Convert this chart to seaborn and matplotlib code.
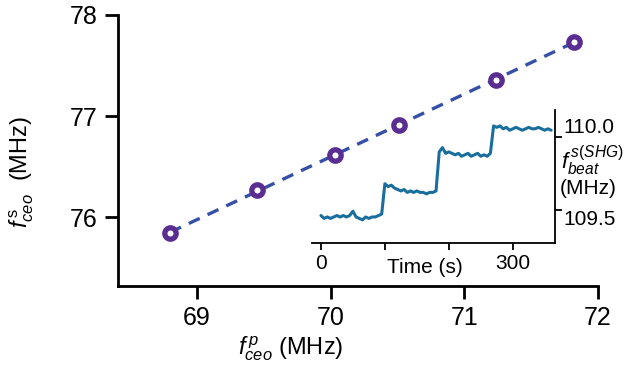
import numpy as np
import pandas as pd
import matplotlib
matplotlib.use("Agg")
import matplotlib.pyplot as plt
import seaborn as sns

# ---- main data ----
f_ceo_p = [68.80, 69.45, 70.03, 70.51, 71.24, 71.82]
f_ceo_s = [75.84, 76.27, 76.62, 76.91, 77.36, 77.73]

# ---- inset data (beat note vs time) ----
time_s = [0, 5, 10, 15, 20, 25, 30, 35, 40, 45, 50, 55, 60, 65, 70, 75, 80, 85, 90, 95,
          100, 105, 110, 115, 120, 125, 130, 135, 140, 145, 150, 155, 160, 165, 170, 175, 180,
          185, 190, 195, 200, 205, 210, 215, 220, 225, 230, 235, 240, 245, 250, 255, 260, 265,
          270, 275, 280, 285, 290, 295, 300, 305, 310, 315, 320, 325, 330, 335, 340, 345, 350, 355, 360]
beat = [109.46, 109.44, 109.45, 109.44, 109.45, 109.46, 109.45, 109.46, 109.45, 109.46,
        109.49, 109.45, 109.44, 109.43, 109.45, 109.44, 109.45, 109.45, 109.46, 109.47,
        109.68, 109.66, 109.67, 109.65, 109.64, 109.63, 109.64, 109.62, 109.63, 109.62,
        109.63, 109.62, 109.62, 109.61, 109.62, 109.62, 109.63,
        109.90, 109.93, 109.89, 109.90, 109.89, 109.88, 109.89, 109.87, 109.88, 109.89,
        109.87, 109.88, 109.89, 109.87, 109.88, 109.87, 109.89,
        110.08, 110.07, 110.08, 110.06, 110.07, 110.05, 110.06, 110.07, 110.06, 110.05,
        110.06, 110.07, 110.06, 110.06, 110.07, 110.06, 110.05, 110.06, 110.05]

main_xticks = [69, 70, 71, 72]
main_yticks = [76, 77, 78]
inset_xticks = [0, 100, 200, 300]
inset_xticklabels = ["0", "", "", "300"]
inset_yticks = [109.5, 110.0]
inset_yticklabels = ["109.5", "110.0"]

sns.set_theme(style="ticks")
plt.rcParams["font.family"] = ["Liberation Sans", "DejaVu Sans"]
plt.rcParams["mathtext.fontset"] = "custom"
plt.rcParams["mathtext.rm"] = "Liberation Sans"
plt.rcParams["mathtext.it"] = "Liberation Sans:italic"
plt.rcParams["axes.linewidth"] = 2.0
plt.rcParams["xtick.major.width"] = 2.0
plt.rcParams["ytick.major.width"] = 2.0
for k in ["xtick.color", "ytick.color", "axes.edgecolor", "axes.labelcolor",
          "text.color", "xtick.labelcolor", "ytick.labelcolor"]:
    plt.rcParams[k] = "black"

fig = plt.figure(figsize=(6.3, 3.72), dpi=100)
ax = fig.add_axes([0.1873, 0.2312, 0.949 - 0.1873, 0.9597 - 0.2312])

df = pd.DataFrame({"p": f_ceo_p, "s": f_ceo_s})
sns.regplot(data=df, x="p", y="s", ax=ax, scatter=False, ci=None,
            line_kws=dict(color="#3550A6", lw=2.4, dashes=(3.6, 2.6)))
sns.lineplot(data=df, x="p", y="s", ax=ax, lw=0, marker="o", markersize=8.2,
             markerfacecolor="white", markeredgecolor="#5A2D91", markeredgewidth=3.8,
             zorder=5)

ax.set_xlim(68.41, 72.0)
ax.set_ylim(75.32, 78.0)
ax.set_xticks(main_xticks)
ax.set_yticks(main_yticks)
ax.tick_params(labelsize=18, pad=5, length=9.4, width=2.0)
sns.despine(ax=ax)
ax.set_xlabel(r"$f^{\,p}_{ceo}$ (MHz)", fontsize=17)
ax.xaxis.set_label_coords(0.36, -0.18)
ax.set_ylabel(r"$f^{\,\mathrm{s}}_{ceo}$  (MHz)", fontsize=17)
ax.yaxis.set_label_coords(-0.17, 0.42)

# ---- inset ----
axi = fig.add_axes([0.4952, 0.3468, 0.3857, 0.3575])
axi.patch.set_alpha(0)
di = pd.DataFrame({"t": time_s, "b": beat})
sns.lineplot(data=di, x="t", y="b", ax=axi, color="#1A6E9E", lw=2.2)
axi.set_xlim(-14, 366)
axi.set_ylim(109.27, 110.19)
axi.spines["top"].set_visible(False)
axi.spines["left"].set_visible(False)
axi.spines["bottom"].set_linewidth(1.3)
axi.spines["right"].set_linewidth(1.3)
axi.yaxis.tick_right()
axi.set_xticks(inset_xticks)
axi.set_xticklabels(inset_xticklabels)
axi.set_yticks(inset_yticks)
axi.set_yticklabels(inset_yticklabels)
axi.tick_params(labelsize=15, pad=3, length=5, width=1.3)
axi.tick_params(axis="y", pad=1)
for lab, va in zip(axi.get_yticklabels(), ["top", "bottom"]):
    lab.set_va(va)
axi.set_xlabel("Time (s)", fontsize=15)
axi.xaxis.set_label_coords(0.465, -0.115)
axi.set_ylabel("")
axi.text(1.025, 0.62, r"$f^{\,s(SHG)}_{beat}$", transform=axi.transAxes,
         fontsize=16, ha="left", va="center")
axi.text(1.02, 0.41, "(MHz)", transform=axi.transAxes,
         fontsize=15, ha="left", va="center")

fig.savefig("out.png", dpi=100)
